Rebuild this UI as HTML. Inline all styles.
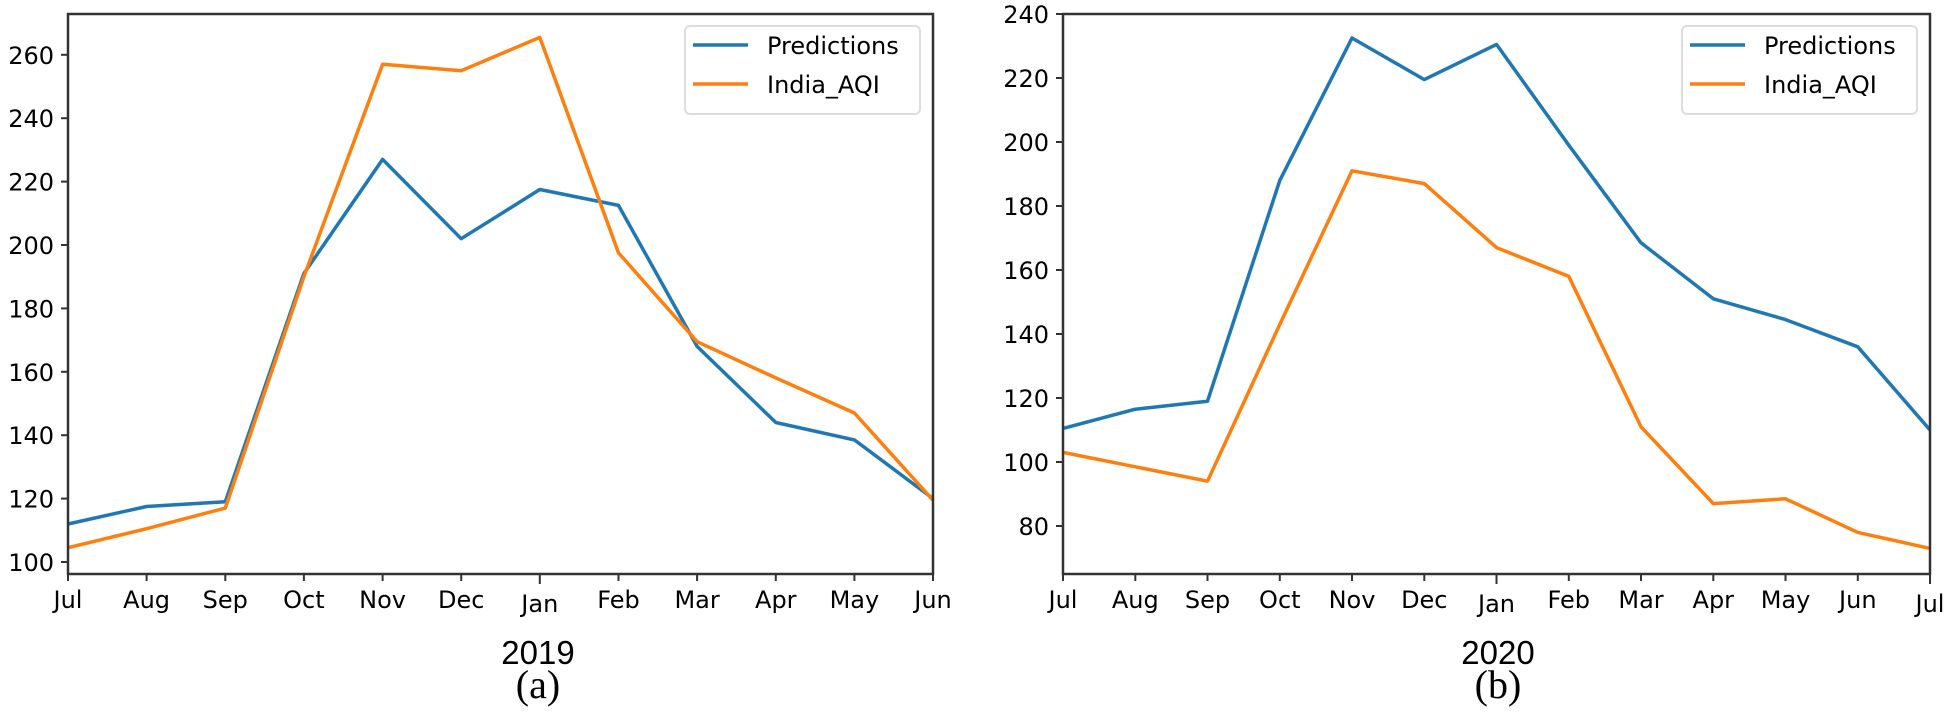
<!DOCTYPE html>
<html><head><meta charset="utf-8"><style>
html,body{margin:0;padding:0;background:#fff;}
svg{display:block;}
.t{font-family:"DejaVu Sans","Liberation Sans",sans-serif;font-size:24px;fill:#000;}
.c{font-family:"Liberation Sans",sans-serif;font-size:33px;fill:#000;}
.s{font-family:"Liberation Serif",serif;font-size:40px;fill:#000;}
</style></head><body>
<svg width="1948" height="713" viewBox="0 0 1948 713" xmlns="http://www.w3.org/2000/svg">
<g fill="none" stroke-width="3.5" stroke-linejoin="round">
<polyline stroke="#1f77b4" points="68,524 146.6,506.5 225.3,501.8 303.9,273.5 382.6,159.4 461.2,238.7 539.8,189.5 618.5,205.4 697.1,346.4 775.8,422.5 854.4,439.9 933,498.6"/>
<polyline stroke="#ff7f0e" points="68,547.7 146.6,528.7 225.3,508.1 303.9,276.7 382.6,64.3 461.2,70.7 539.8,37.4 618.5,252.9 697.1,341.7 775.8,377.9 854.4,413 933,500.2"/>
</g>
<rect x="68" y="14" width="865" height="560" fill="none" stroke="#333" stroke-width="2.5"/>
<g stroke="#333" stroke-width="2">
<line x1="61" y1="562" x2="68" y2="562"/><line x1="61" y1="498.6" x2="68" y2="498.6"/><line x1="61" y1="435.2" x2="68" y2="435.2"/><line x1="61" y1="371.8" x2="68" y2="371.8"/><line x1="61" y1="308.4" x2="68" y2="308.4"/><line x1="61" y1="245" x2="68" y2="245"/><line x1="61" y1="181.6" x2="68" y2="181.6"/><line x1="61" y1="118.2" x2="68" y2="118.2"/><line x1="61" y1="54.8" x2="68" y2="54.8"/>
<line x1="68" y1="574" x2="68" y2="581"/><line x1="146.6" y1="574" x2="146.6" y2="581"/><line x1="225.3" y1="574" x2="225.3" y2="581"/><line x1="303.9" y1="574" x2="303.9" y2="581"/><line x1="382.6" y1="574" x2="382.6" y2="581"/><line x1="461.2" y1="574" x2="461.2" y2="581"/><line x1="539.8" y1="574" x2="539.8" y2="584"/><line x1="618.5" y1="574" x2="618.5" y2="581"/><line x1="697.1" y1="574" x2="697.1" y2="581"/><line x1="775.8" y1="574" x2="775.8" y2="581"/><line x1="854.4" y1="574" x2="854.4" y2="581"/><line x1="933" y1="574" x2="933" y2="581"/>
</g>
<g class="t" text-anchor="end">
<text x="54" y="571">100</text><text x="54" y="507.6">120</text><text x="54" y="444.2">140</text><text x="54" y="380.8">160</text><text x="54" y="317.4">180</text><text x="54" y="254">200</text><text x="54" y="190.6">220</text><text x="54" y="127.2">240</text><text x="54" y="63.8">260</text>
</g>
<g class="t" text-anchor="middle">
<text x="68" y="608">Jul</text><text x="146.6" y="608">Aug</text><text x="225.3" y="608">Sep</text><text x="303.9" y="608">Oct</text><text x="382.6" y="608">Nov</text><text x="461.2" y="608">Dec</text><text x="539.8" y="612">Jan</text><text x="618.5" y="608">Feb</text><text x="697.1" y="608">Mar</text><text x="775.8" y="608">Apr</text><text x="854.4" y="608">May</text><text x="933" y="608">Jun</text>
</g>
<rect x="685" y="26" width="235" height="88" rx="5" fill="#fff" stroke="#ddd" stroke-width="2"/>
<line x1="693" y1="45" x2="748" y2="45" stroke="#1f77b4" stroke-width="3.5"/>
<line x1="693" y1="84" x2="748" y2="84" stroke="#ff7f0e" stroke-width="3.5"/>
<text class="t" x="767" y="54">Predictions</text>
<text class="t" x="767" y="93">India_AQI</text>
<text class="c" x="538" y="664" text-anchor="middle">2019</text>
<text class="s" x="538" y="698" text-anchor="middle">(a)</text>

<g fill="none" stroke-width="3.5" stroke-linejoin="round">
<polyline stroke="#1f77b4" points="1063,428.4 1135.3,409.2 1207.5,401.2 1279.8,180.4 1352,38 1424.3,79.6 1496.5,44.4 1568.8,145.2 1641,242.8 1713.3,298.8 1785.5,319.6 1857.8,346.8 1930,430"/>
<polyline stroke="#ff7f0e" points="1063,452.4 1135.3,466.8 1207.5,481.2 1279.8,324.4 1352,170.8 1424.3,183.6 1496.5,247.6 1568.8,276.4 1641,426.8 1713.3,503.6 1785.5,498.8 1857.8,532.4 1930,548.4"/>
</g>
<rect x="1063" y="14" width="867" height="560" fill="none" stroke="#333" stroke-width="2.5"/>
<g stroke="#333" stroke-width="2">
<line x1="1056" y1="526" x2="1063" y2="526"/><line x1="1056" y1="462" x2="1063" y2="462"/><line x1="1056" y1="398" x2="1063" y2="398"/><line x1="1056" y1="334" x2="1063" y2="334"/><line x1="1056" y1="270" x2="1063" y2="270"/><line x1="1056" y1="206" x2="1063" y2="206"/><line x1="1056" y1="142" x2="1063" y2="142"/><line x1="1056" y1="78" x2="1063" y2="78"/><line x1="1056" y1="14" x2="1063" y2="14"/>
<line x1="1063" y1="574" x2="1063" y2="581"/><line x1="1135.3" y1="574" x2="1135.3" y2="581"/><line x1="1207.5" y1="574" x2="1207.5" y2="581"/><line x1="1279.8" y1="574" x2="1279.8" y2="581"/><line x1="1352" y1="574" x2="1352" y2="581"/><line x1="1424.3" y1="574" x2="1424.3" y2="581"/><line x1="1496.5" y1="574" x2="1496.5" y2="584"/><line x1="1568.8" y1="574" x2="1568.8" y2="581"/><line x1="1641" y1="574" x2="1641" y2="581"/><line x1="1713.3" y1="574" x2="1713.3" y2="581"/><line x1="1785.5" y1="574" x2="1785.5" y2="581"/><line x1="1857.8" y1="574" x2="1857.8" y2="581"/><line x1="1930" y1="574" x2="1930" y2="584"/>
</g>
<g class="t" text-anchor="end">
<text x="1049" y="535">80</text><text x="1049" y="471">100</text><text x="1049" y="407">120</text><text x="1049" y="343">140</text><text x="1049" y="279">160</text><text x="1049" y="215">180</text><text x="1049" y="151">200</text><text x="1049" y="87">220</text><text x="1049" y="23">240</text>
</g>
<g class="t" text-anchor="middle">
<text x="1063" y="608">Jul</text><text x="1135.3" y="608">Aug</text><text x="1207.5" y="608">Sep</text><text x="1279.8" y="608">Oct</text><text x="1352" y="608">Nov</text><text x="1424.3" y="608">Dec</text><text x="1496.5" y="612">Jan</text><text x="1568.8" y="608">Feb</text><text x="1641" y="608">Mar</text><text x="1713.3" y="608">Apr</text><text x="1785.5" y="608">May</text><text x="1857.8" y="608">Jun</text><text x="1930" y="612">Jul</text>
</g>
<rect x="1682" y="26" width="235" height="88" rx="5" fill="#fff" stroke="#ddd" stroke-width="2"/>
<line x1="1690" y1="45" x2="1745" y2="45" stroke="#1f77b4" stroke-width="3.5"/>
<line x1="1690" y1="84" x2="1745" y2="84" stroke="#ff7f0e" stroke-width="3.5"/>
<text class="t" x="1764" y="54">Predictions</text>
<text class="t" x="1764" y="93">India_AQI</text>
<text class="c" x="1498" y="664" text-anchor="middle">2020</text>
<text class="s" x="1498" y="698" text-anchor="middle">(b)</text>
</svg>
</body></html>
